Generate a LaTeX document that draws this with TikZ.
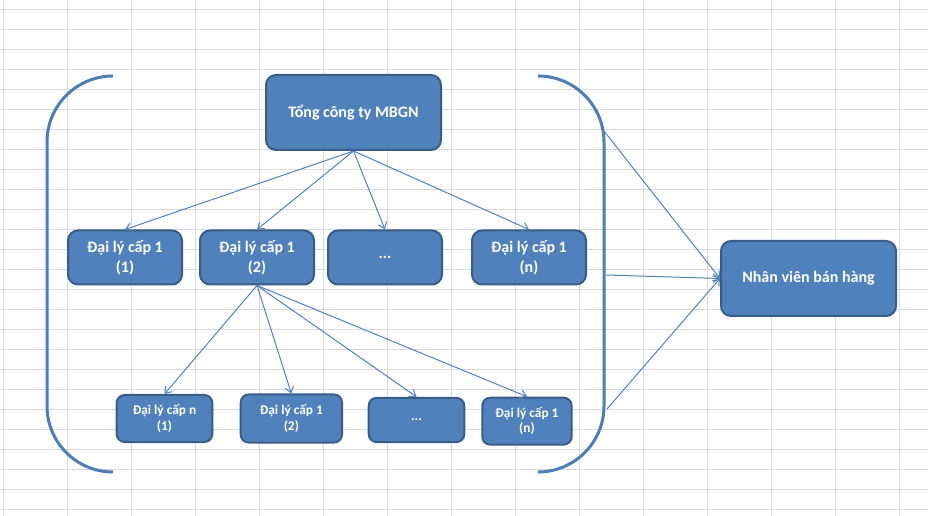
\documentclass[tikz,border=0pt]{standalone}
\usepackage{fontspec}
\setmainfont{Carlito}
\usepackage{tikz}
\usetikzlibrary{positioning, arrows.meta}
\definecolor{boxblue}{HTML}{4F81BD}
\definecolor{boxedge}{HTML}{385D8A}
\definecolor{lineblue}{HTML}{4A7EBB}
\definecolor{cellgrid}{HTML}{D9D9D9}

\begin{document}
\begin{tikzpicture}[x=0.75pt, y=-0.75pt,
	box/.style={rectangle, rounded corners=7.5pt, draw=boxedge, fill=boxblue, line width=1.5pt, text=white, align=center, font=\bfseries\fontsize{12}{15}\selectfont},
	bigbox/.style={box, minimum width=131.25pt, minimum height=56.25pt},
	midbox/.style={box, minimum width=85.5pt, minimum height=40.5pt},
	smallbox/.style={box, rounded corners=6pt, minimum height=35.25pt, font=\bfseries\fontsize{10}{11.5}\selectfont},
	link/.style={draw=boxblue, line width=0.75pt, -{Straight Barb[length=4.5pt,width=6.5pt]}},
	bracket/.style={draw=lineblue, line width=2.25pt, rounded corners=49.5pt},
	cell/.style={draw=cellgrid, line width=0.75pt}]
			\useasboundingbox (0,0) rectangle (928,516);
			\foreach \gx in {0,...,14}
				\draw[cell] ({3.7+64*\gx},0) -- ({3.7+64*\gx},516);
			\foreach \gy in {0,...,25}
				\draw[cell] (0,{9.3+20*\gy}) -- (928,{9.3+20*\gy});
			
			\node[bigbox] (m) at (353.5,112.5) {Tổng công ty MBGN};
			
			\node[midbox] (dl1) at (125,257.5) {Đại lý cấp 1\\(1)};
			\node[midbox, right = 12pt of dl1] (dl2) {Đại lý cấp 1\\(2)};
			\node[midbox, right = 9pt of dl2] (dl-dots) {...};
			\node[midbox, right = 21pt of dl-dots] (dln) {Đại lý cấp 1\\(n)};
			
			\node[smallbox, minimum width=71.7pt] (c1) at (164.5,418.5) {Đại lý cấp n\\(1)};
			\node[smallbox, minimum width=76pt, minimum height=36pt, right = 19.8pt of c1] (c2) {Đại lý cấp 1\\(2)};
			\node[smallbox, minimum width=71.7pt, minimum height=33.2pt, right = 18.5pt of c2, yshift=-1.1pt] (c-dots) {...};
			\node[smallbox, minimum width=67pt, right = 12pt of c-dots, yshift=-0.9pt] (cn) {Đại lý cấp 1\\(n)};
			
			\node[bigbox] (nv) at (808.5,278.5) {Nhân viên bán hàng};
			
			\draw[bracket] (113,76) -- (47,76) -- (47,472) -- (113,472);
			\draw[bracket] (538.7,76) -- (604,76) -- (604,472) -- (538.7,472);
			
			\draw[link] (m.south) -- (dl1.north);
			\draw[link] (m.south) -- (dl2.north);
			\draw[link] (m.south) -- (dl-dots.north);
			\draw[link] (m.south) -- (dln.north);
			
			\draw[link] (dl2.south) -- (c1.north);
			\draw[link] (dl2.south) -- (c2.north);
			\draw[link] (dl2.south) -- (c-dots.north);
			\draw[link] (dl2.south) -- (cn.north);
			
			\coordinate (br1) at (604,131);
			\coordinate (br2) at (606,275);
			\coordinate (br3) at (607,409);
			\draw[link] (br1) -- (nv.west);
			\draw[link] (br2) -- (nv.west);
			\draw[link] (br3) -- (nv.west);
	\end{tikzpicture}
\end{document}
